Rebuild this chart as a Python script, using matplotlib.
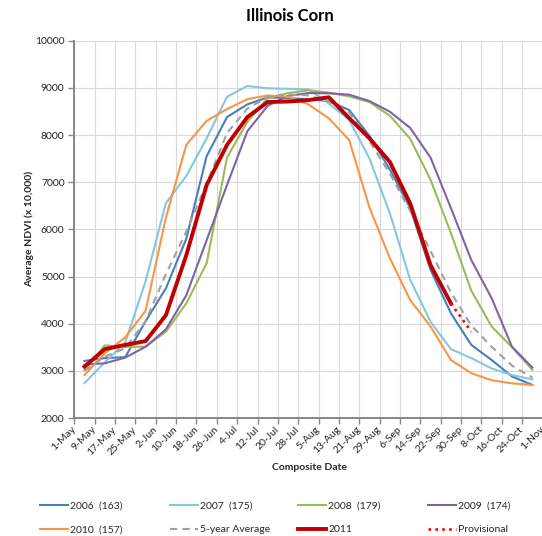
import numpy as np
import matplotlib
matplotlib.use('Agg')
import matplotlib.pyplot as plt
from matplotlib.transforms import ScaledTranslation

dates = ['1-May', '9-May', '17-May', '25-May', '2-Jun', '10-Jun', '18-Jun', '26-Jun',
         '4-Jul', '12-Jul', '20-Jul', '28-Jul', '5-Aug', '13-Aug', '21-Aug', '29-Aug',
         '6-Sep', '14-Sep', '22-Sep', '30-Sep', '8-Oct', '16-Oct', '24-Oct', '1-Nov']

y2006 = [3210, 3270, 3290, 4050, 4750, 5800, 7550, 8380, 8650, 8800, 8780, 8760,
         8720, 8530, 7980, 7270, 6450, 5140, 4220, 3550, 3230, 2880, 2700]
y2007 = [2740, 3180, 3600, 4900, 6560, 7130, 7930, 8810, 9040, 8990, 8980, 8970,
         8670, 8320, 7500, 6340, 4930, 4040, 3460, 3270, 3050, 2910, 2820]
y2008 = [3020, 3540, 3510, 3510, 3830, 4430, 5280, 7520, 8280, 8780, 8890, 8950,
         8900, 8820, 8700, 8410, 7920, 7050, 5920, 4700, 3940, 3500, 3020]
y2009 = [3130, 3160, 3280, 3510, 3880, 4600, 5770, 6940, 8080, 8620, 8830, 8890,
         8885, 8855, 8720, 8495, 8150, 7520, 6450, 5350, 4540, 3510, 3070]
y2010 = [2910, 3370, 3710, 4270, 6250, 7790, 8300, 8550, 8760, 8840, 8810, 8650,
         8355, 7895, 6460, 5390, 4500, 3940, 3230, 2950, 2800, 2735, 2700]
avg5 = [3000, 3300, 3480, 4050, 5050, 5950, 6970, 8040, 8560, 8810, 8860, 8840,
        8710, 8480, 7870, 7180, 6390, 5540, 4660, 3960, 3510, 3110, 2860]
y2011 = [3090, 3460, 3550, 3630, 4180, 5450, 6940, 7790, 8380, 8700, 8710, 8740,
         8800, 8360, 7930, 7430, 6550, 5240, 4430]
prov_idx = [18, 19]
prov = [4430, 3830]

plt.rcParams['font.family'] = ['Lato', 'DejaVu Sans']
txt = '#262626'

fig = plt.figure(figsize=(5.42, 5.36), dpi=100)
# plot area runs past the right edge, as in the cropped original
ax = fig.add_axes([74.3/542, 1-418/536, 488.6/542, 377.3/536])

x = np.arange(len(y2006))
ax.plot(x, y2006, color='#4A7EBB', lw=1.5, label='2006  (163)')
ax.plot(x, y2007, color='#86C7E0', lw=1.5, label='2007  (175)')
ax.plot(x, y2008, color='#9BBB59', lw=1.5, label='2008  (179)')
ax.plot(x, y2009, color='#8064A2', lw=1.5, label='2009  (174)')
ax.plot(x, y2010, color='#F79646', lw=1.5, label='2010  (157)')
ax.plot(x, avg5, color='#A0A0A0', lw=1.5, ls=(0, (3.5, 2.5)), label='5-year Average')
ax.plot(np.arange(len(y2011)), y2011, color='#C00000', lw=2.8, label='2011')
ax.plot(prov_idx, prov, color='#FF0000', lw=1.9, ls=(0, (1, 1.6)), label='Provisional')

ax.set_xlim(-0.5, len(dates) - 0.5)
ax.set_ylim(2000, 10000)
ax.set_yticks(np.arange(2000, 10001, 1000))
ax.set_xticks(np.arange(len(dates)) - 0.5)
ax.set_xticklabels(dates, rotation=45, ha='right', va='center', rotation_mode='anchor')
shift = ScaledTranslation(5/100, -1/100, fig.dpi_scale_trans)
for t in ax.get_xticklabels():
    t.set_transform(t.get_transform() + shift)
ax.grid(True, color='#D9D9D9', lw=0.8)
ax.set_axisbelow(True)
for s in ['top', 'right']:
    ax.spines[s].set_visible(False)
for s in ['left', 'bottom']:
    ax.spines[s].set_color('#868686')
    ax.spines[s].set_linewidth(1.4)
ax.tick_params(axis='both', colors='#868686', labelcolor=txt, labelsize=7.5,
               length=4, width=1.0, direction='out')
ax.tick_params(axis='x', pad=3)
ax.tick_params(axis='y', pad=3)

fig.text(29/542, 1-229/536, 'Average NDVI (x 10,000)', fontsize=7.5, fontweight='bold',
         color=txt, rotation=90, ha='center', va='center')
fig.text(309/542, 1-468/536, 'Composite Date', fontsize=7.5, fontweight='bold', color=txt,
         ha='center', va='center')
fig.text(290/542, 1-16/536, 'Illinois Corn', fontsize=12, fontweight='bold', color='black',
         ha='center', va='center')

# legend: four columns of two entries, like the Excel layout
h, l = ax.get_legend_handles_labels()
cols = [[0, 4], [1, 5], [2, 6], [3, 7]]
col_x = [40, 170, 298, 428]
for c, cx in zip(cols, col_x):
    fig.legend([h[i] for i in c], [l[i] for i in c], loc='upper left',
               bbox_to_anchor=(cx/542, 1-501/536), frameon=False, fontsize=7.5,
               handlelength=2.7, handletextpad=0.2, labelspacing=1.4,
               borderpad=0, borderaxespad=0, labelcolor=txt)

fig.savefig('out.png', dpi=100)
